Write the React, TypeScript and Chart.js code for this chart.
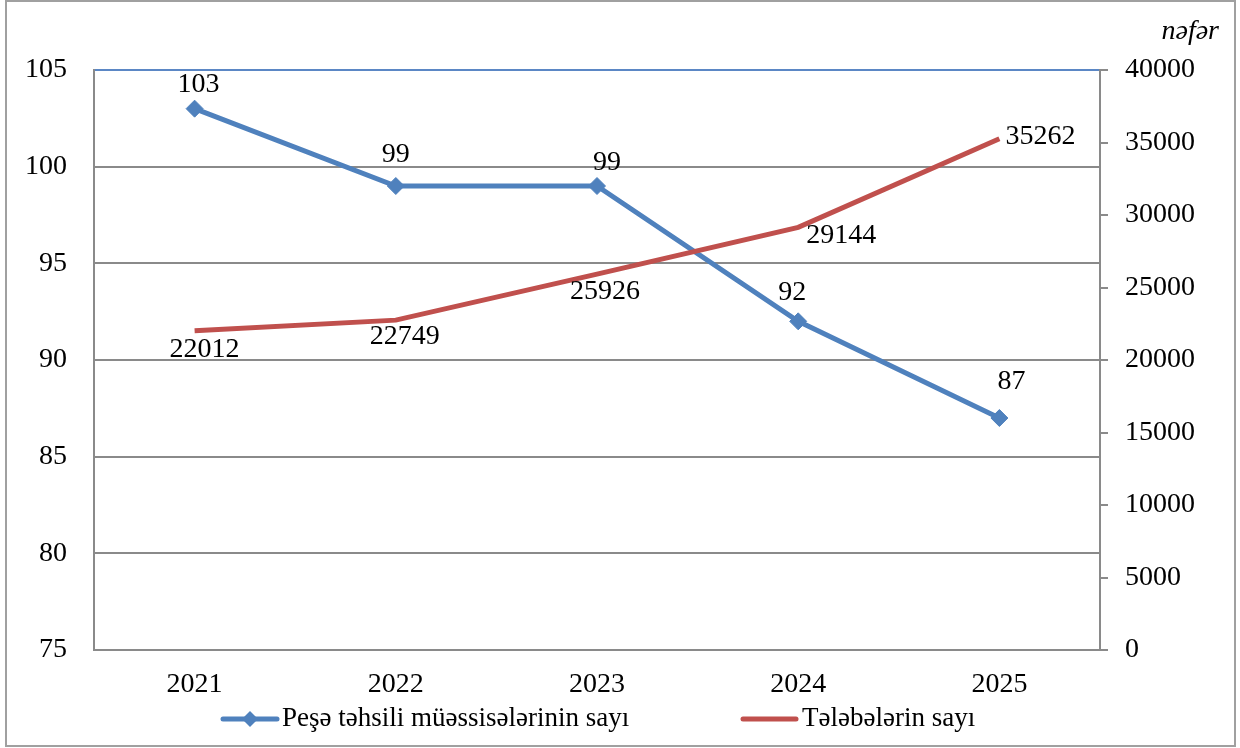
import { useEffect, useRef } from "react";
import { Chart, registerables } from "chart.js";

Chart.register(...registerables);

const categories = ["2021", "2022", "2023", "2024", "2025"];
const institutions = [103, 99, 99, 92, 87];
const students = [22012, 22749, 25926, 29144, 35262];
const seriesNames = ["Peşə təhsili müəssisələrinin sayı", "Tələbələrin sayı"];
const unitLabel = "nəfər";
const leftAxisRange = [75, 105, 5];
const rightAxisRange = [0, 40000, 5000];

// label placement (offset of label centre from its point, px)
const labelOffsets = [
  [[4, -24], [0, -31], [10, -23], [-6, -29], [12, -36]],
  [[10, 19], [9, 17], [8, 18], [43, 8], [41, -2]],
];

const BLUE = "#4f81bd";
const RED = "#c0504d";
const GRID = "#8a8a8a";
const FONT = '"Liberation Serif", "Times New Roman", serif';

const decorPlugin = {
  id: "decor",
  afterDatasetsDraw(chart: any) {
    const ctx = chart.ctx;
    ctx.save();
    ctx.font = `28px ${FONT}`;
    ctx.fillStyle = "#000";
    ctx.textAlign = "center";
    ctx.textBaseline = "middle";
    chart.data.datasets.forEach((ds: any, di: number) => {
      const meta = chart.getDatasetMeta(di);
      meta.data.forEach((pt: any, i: number) => {
        const off = labelOffsets[di][i];
        ctx.fillText(String(ds.data[i]), pt.x + off[0], pt.y + off[1]);
      });
    });
    ctx.restore();
  },
  afterDraw(chart: any) {
    const ctx = chart.ctx;
    ctx.save();
    // outer frame
    ctx.strokeStyle = "#a0a0a0";
    ctx.lineWidth = 2;
    ctx.strokeRect(6, 1, 1229, 745);

    // unit label
    ctx.font = `italic 28px ${FONT}`;
    ctx.fillStyle = "#000";
    ctx.textAlign = "right";
    ctx.textBaseline = "alphabetic";
    ctx.fillText(unitLabel, 1219, 39);

    // legend
    const ly = 719;
    ctx.lineCap = "round";
    ctx.lineWidth = 5;
    ctx.strokeStyle = BLUE;
    ctx.beginPath();
    ctx.moveTo(223, ly);
    ctx.lineTo(277, ly);
    ctx.stroke();
    ctx.fillStyle = BLUE;
    ctx.beginPath();
    ctx.moveTo(250, ly - 8);
    ctx.lineTo(258, ly);
    ctx.lineTo(250, ly + 8);
    ctx.lineTo(242, ly);
    ctx.closePath();
    ctx.fill();

    ctx.strokeStyle = RED;
    ctx.beginPath();
    ctx.moveTo(743, ly);
    ctx.lineTo(796, ly);
    ctx.stroke();

    ctx.font = `27px ${FONT}`;
    ctx.fillStyle = "#000";
    ctx.textAlign = "left";
    ctx.textBaseline = "middle";
    ctx.fillText(seriesNames[0], 282, ly);
    ctx.fillText(seriesNames[1], 802, ly);
    ctx.restore();
  },
};

export default function App() {
  const canvasRef = useRef<HTMLCanvasElement | null>(null);

  useEffect(() => {
    document.body.style.margin = "0";
    const canvas = canvasRef.current;
    if (!canvas) return;
    const tickFont = { family: FONT, size: 28 };
    const chart = new Chart(canvas, {
      type: "line",
      data: {
        labels: categories,
        datasets: [
          {
            label: seriesNames[0],
            data: institutions,
            yAxisID: "y",
            borderColor: BLUE,
            backgroundColor: BLUE,
            borderWidth: 5,
            pointStyle: "rectRot",
            pointRadius: 8.5,
            pointBorderWidth: 1,
            pointBackgroundColor: BLUE,
            pointBorderColor: BLUE,
            tension: 0,
            order: 1,
          },
          {
            label: seriesNames[1],
            data: students,
            yAxisID: "y1",
            borderColor: RED,
            backgroundColor: RED,
            borderWidth: 5,
            pointRadius: 0,
            tension: 0,
            order: 0,
          },
        ],
      },
      options: {
        animation: false,
        responsive: false,
        devicePixelRatio: 1,
        layout: { padding: { top: 70, left: 0, right: 0, bottom: 0 } },
        plugins: {
          legend: { display: false },
          tooltip: { enabled: false },
        },
        scales: {
          x: {
            type: "category",
            offset: true,
            grid: { display: false, drawTicks: false },
            border: { display: false },
            ticks: { color: "#000", font: tickFont, padding: 18, maxRotation: 0 },
            afterFit: (s: any) => {
              s.height = 98;
            },
          },
          y: {
            position: "left",
            min: leftAxisRange[0],
            max: leftAxisRange[1],
            ticks: {
              stepSize: leftAxisRange[2],
              color: "#000",
              font: tickFont,
              padding: 27,
              callback: (v: any) => String(v),
            },
            grid: {
              color: (c: any) => (c.tick && c.tick.value === leftAxisRange[1] ? "#5b87c5" : GRID),
              lineWidth: 2,
              drawTicks: false,
            },
            border: { color: GRID, width: 2 },
            afterFit: (s: any) => {
              s.width = 94;
            },
          },
          y1: {
            position: "right",
            min: rightAxisRange[0],
            max: rightAxisRange[1],
            ticks: {
              stepSize: rightAxisRange[2],
              color: "#000",
              font: tickFont,
              padding: 17,
              callback: (v: any) => String(v),
            },
            grid: {
              drawOnChartArea: false,
              drawTicks: true,
              tickLength: 8,
              color: GRID,
              lineWidth: 2,
            },
            border: { color: GRID, width: 2 },
            afterFit: (s: any) => {
              s.width = 140;
            },
          },
        },
      },
      plugins: [decorPlugin],
    } as any);
    return () => chart.destroy();
  }, []);

  return (
    <div style={{ position: "absolute", left: 0, top: 0, width: 1240, height: 748, background: "#fff" }}>
      <canvas ref={canvasRef} width={1240} height={748} />
    </div>
  );
}
